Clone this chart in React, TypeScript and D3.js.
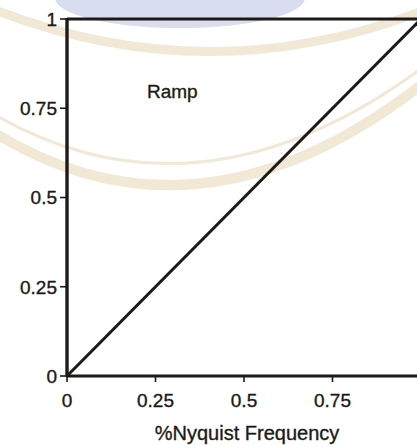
import React from "react";
import * as d3 from "d3";

const W = 417;
const H = 445;

const xTicks = [0, 0.25, 0.5, 0.75];
const xTickLabels = ["0", "0.25", "0.5", "0.75"];
const yTicks = [0, 0.25, 0.5, 0.75, 1];
const yTickLabels = ["0", "0.25", "0.5", "0.75", "1"];
const rampX = [0, 1];
const rampY = [0, 1];
const seriesLabel = "Ramp";
const xAxisTitle = "%Nyquist Frequency";

export default function App() {
  const x = d3.scaleLinear().domain([0, 1]).range([67, 421]);
  const y = d3.scaleLinear().domain([0, 1]).range([376, 19]);
  const line = d3
    .line<number>()
    .x((_, i) => x(rampX[i]))
    .y((_, i) => y(rampY[i]));
  const ink = "#1c1a16";
  const font = "Liberation Sans, Arial, sans-serif";
  const textStyle = { stroke: ink, strokeWidth: 0.35 };
  return (
    <svg
      width={W}
      height={H}
      style={{ position: "absolute", left: 0, top: 0, background: "#fff" }}
    >
      {/* faint watermark (scanned page seal) */}
      <ellipse cx={180} cy={-2} rx={125} ry={30} fill="#d8ddf0" />
      <g fill="none" stroke="#efe5cf" opacity={0.85}>
        <path d="M -10 8 Q 210 95 430 8" strokeWidth={9} />
        <path d="M -10 130 Q 200 262 430 78" strokeWidth={10} />
        <path d="M -10 112 Q 200 236 430 62" strokeWidth={3} />
      </g>
      {/* frame top */}
      <line x1={x(0)} x2={W} y1={y(1)} y2={y(1)} stroke={ink} strokeWidth={3} />
      {/* left axis */}
      <line x1={x(0)} x2={x(0)} y1={y(1) - 1} y2={y(0) + 1} stroke={ink} strokeWidth={3.4} />
      {/* bottom axis */}
      <line x1={x(0)} x2={W} y1={y(0)} y2={y(0)} stroke={ink} strokeWidth={2.8} />
      {/* y ticks */}
      {yTicks.map((t, i) => (
        <g key={"y" + i}>
          <line x1={x(0) - 7} x2={x(0)} y1={y(t)} y2={y(t)} stroke={ink} strokeWidth={1.6} />
          <text
            x={x(0) - 10}
            y={y(t)}
            dy="0.36em"
            textAnchor="end"
            fontSize={19}
            fontFamily={font}
            fill={ink}
            style={textStyle}
          >
            {yTickLabels[i]}
          </text>
        </g>
      ))}
      {/* x ticks */}
      {xTicks.map((t, i) => (
        <g key={"x" + i}>
          <line x1={x(t)} x2={x(t)} y1={y(0)} y2={y(0) + 6} stroke={ink} strokeWidth={1.6} />
          <text
            x={x(t)}
            y={y(0) + 31}
            textAnchor="middle"
            fontSize={19}
            fontFamily={font}
            fill={ink}
            style={textStyle}
          >
            {xTickLabels[i]}
          </text>
        </g>
      ))}
      {/* ramp */}
      <path d={line(rampX) || ""} fill="none" stroke={ink} strokeWidth={3} />
      <text x={147} y={98} fontSize={19} fontFamily={font} fill={ink} style={textStyle}>
        {seriesLabel}
      </text>
      <text
        x={247}
        y={440}
        textAnchor="middle"
        fontSize={20}
        fontFamily={font}
        fill={ink}
        style={textStyle}
      >
        {xAxisTitle}
      </text>
    </svg>
  );
}
